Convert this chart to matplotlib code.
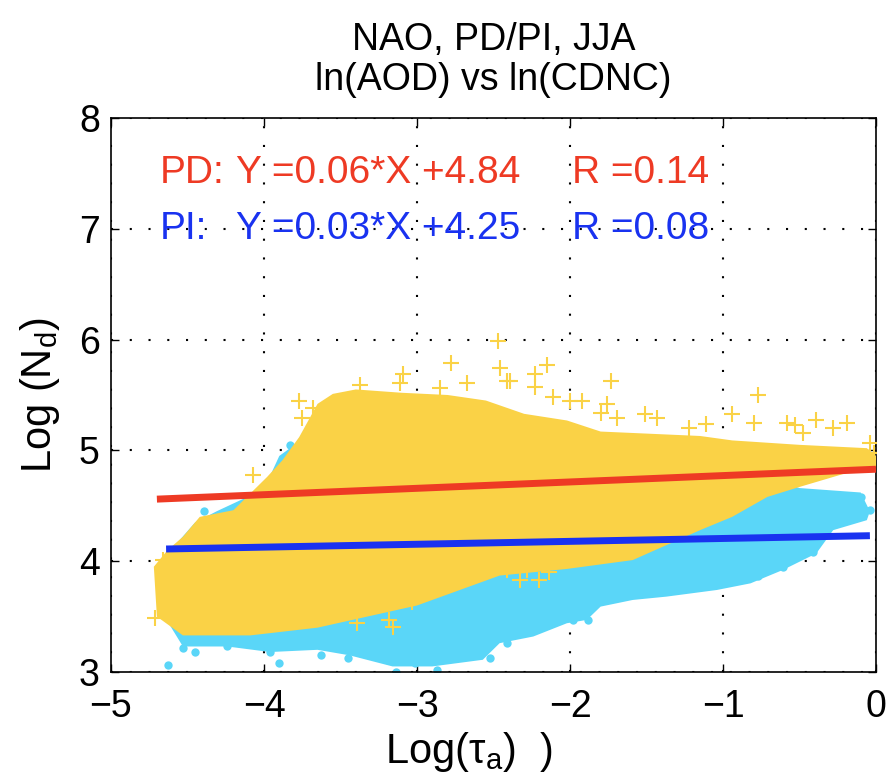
import matplotlib
matplotlib.use("Agg")
import matplotlib.pyplot as plt

plt.rcParams["font.family"] = ["Liberation Sans", "DejaVu Sans"]
plt.rcParams["mathtext.default"] = "regular"

# regression fits (end points)
pd_line_x = [-4.70, 0.0]
pd_line_y = [4.56, 4.83]
pi_line_x = [-4.64, -0.04]
pi_line_y = [4.11, 4.23]

# outline of the dense PD (yellow) cloud
pd_cloud_x = [-4.72, -4.63, -4.53, -4.42, -4.20, -3.98, -3.88, -3.77, -3.65, -3.55,
              -3.40, -3.10, -2.80, -2.55, -2.30, -2.02, -1.80, -1.15, -0.94, -0.50,
              -0.06, 0.0, 0.0, -0.06, -0.28, -0.50, -0.71, -0.94, -1.15, -1.59,
              -2.02, -2.46, -3.00, -3.65, -4.09, -4.53, -4.70]
pd_cloud_y = [3.95, 4.10, 4.22, 4.40, 4.46, 4.76, 4.91, 5.12, 5.42, 5.51,
              5.55, 5.52, 5.50, 5.45, 5.33, 5.27, 5.17, 5.13, 5.09, 5.05,
              5.02, 4.95, 4.85, 4.85, 4.76, 4.67, 4.58, 4.40, 4.28, 4.01,
              3.93, 3.87, 3.60, 3.40, 3.33, 3.33, 3.50]

# outline of the dense PI (cyan) cloud
pi_cloud_x = [-4.64, -4.45, -4.31, -4.00, -3.90, -3.80, -3.63, -3.55, -3.00, -1.50,
              -0.50, -0.10, -0.04, -0.06, -0.28, -0.39, -0.61, -0.82, -1.04, -1.37,
              -1.59, -1.80, -1.89, -2.02, -2.24, -2.46, -2.57, -2.90, -3.16, -3.44,
              -3.65, -3.96, -4.24, -4.53, -4.65]
pi_cloud_y = [4.05, 4.35, 4.45, 4.65, 4.95, 5.05, 5.10, 5.25, 5.30, 5.10,
              4.66, 4.62, 4.45, 4.37, 4.28, 4.07, 3.92, 3.80, 3.74, 3.68,
              3.65, 3.59, 3.47, 3.44, 3.32, 3.26, 3.11, 3.05, 3.05, 3.15,
              3.20, 3.18, 3.23, 3.23, 3.50]

# scattered PD points outside the dense cloud
pd_pts_x = [-2.47, -2.78, -2.46, -2.41, -3.09, -3.11, -2.67, -2.85, -3.37, -3.77,
            -3.68, -3.75, -4.07, -4.66, -4.61, -4.71, -3.18, -3.03, -3.39, -3.16,
            -2.15, -2.23, -2.39, -2.23, -1.73, -2.11, -2.00, -1.92, -1.76, -1.80,
            -1.51, -1.43, -1.69, -0.77, -0.94, -1.11, -0.80, -0.58, -0.53, -0.39,
            -0.19, -0.28, -0.48, -1.22, -0.04, -0.01, -2.41, -2.28, -2.33, -2.20,
            -2.14]
pd_pts_y = [5.99, 5.79, 5.74, 5.63, 5.69, 5.61, 5.61, 5.56, 5.59, 5.45,
            5.38, 5.29, 4.78, 4.01, 3.90, 3.49, 3.47, 3.63, 3.44, 3.41,
            5.77, 5.69, 5.63, 5.57, 5.63, 5.48, 5.45, 5.45, 5.42, 5.34,
            5.33, 5.29, 5.29, 5.50, 5.33, 5.24, 5.25, 5.25, 5.23, 5.27,
            5.25, 5.20, 5.16, 5.20, 5.07, 4.98, 3.92, 3.92, 3.83, 3.83,
            3.90]

# scattered PI points outside the dense cloud
pi_pts_x = [-4.63, -4.53, -4.45, -4.24, -3.96, -3.90, -3.63, -3.45, -3.14, -3.01,
            -2.87, -2.52, -2.94, -2.83, -2.71, -1.98, -1.88, -2.41, -0.41, -0.54,
            -0.61, -0.77, -0.04, -0.10, -4.39, -4.30, -3.83]
pi_pts_y = [3.06, 3.22, 3.18, 3.23, 3.18, 3.08, 3.15, 3.13, 3.00, 3.08,
            3.02, 3.13, 3.15, 3.18, 3.23, 3.47, 3.47, 3.26, 4.08, 4.08,
            3.95, 3.87, 4.46, 4.58, 4.45, 4.40, 5.05]

yellow = "#fad246"
cyan = "#5ad6f8"
red = "#ee3a24"
blue = "#1932f0"

fig = plt.figure(figsize=(8.88, 7.82), dpi=100)
ax = fig.add_axes([0.125, 0.1407, 0.8615, 0.7084])

ax.fill(pi_cloud_x, pi_cloud_y, color=cyan, lw=0, zorder=2)
ax.plot(pi_pts_x, pi_pts_y, "o", color=cyan, ms=6, mew=0, zorder=2)
ax.fill(pd_cloud_x, pd_cloud_y, color=yellow, lw=0, zorder=3)
ax.plot(pd_pts_x, pd_pts_y, "+", color=yellow, ms=11, mew=1.5, zorder=3)

ax.plot(pd_line_x, pd_line_y, color=red, lw=5, solid_capstyle="butt", zorder=4)
ax.plot(pi_line_x, pi_line_y, color=blue, lw=5, solid_capstyle="butt", zorder=4)

ax.text(-4.68, 7.5, "PD:", color=red, fontsize=28, va="center")
ax.text(-4.18, 7.5, "Y =0.06*X +4.84", color=red, fontsize=28, va="center")
ax.text(-1.99, 7.5, "R =0.14", color=red, fontsize=28, va="center")
ax.text(-4.68, 7.0, "PI:", color=blue, fontsize=28, va="center")
ax.text(-4.18, 7.0, "Y =0.03*X +4.25", color=blue, fontsize=28, va="center")
ax.text(-1.99, 7.0, "R =0.08", color=blue, fontsize=28, va="center")

ax.set_xlim(-5, 0)
ax.set_ylim(3, 8)
ax.set_xticks([-5, -4, -3, -2, -1, 0])
ax.set_yticks([3, 4, 5, 6, 7, 8])
ax.grid(True, color="k", linestyle=(0, (1, 8)), lw=1.5)
ax.set_axisbelow(True)
ax.tick_params(direction="in", top=True, right=True, length=6, width=1,
               labelsize=27)
ax.tick_params(axis="x", pad=12)
ax.tick_params(axis="y", pad=8)
for s in ax.spines.values():
    s.set_linewidth(1.2)

ax.set_title("NAO, PD/PI, JJA\nln(AOD) vs ln(CDNC)", fontsize=27, pad=20,
             linespacing=1.15)
ax.set_xlabel(r"Log($\tau_{a}$)  )", fontsize=30)
ax.xaxis.set_label_coords(0.468, -0.105)
ax.set_ylabel(r"Log (N$_{d}$)", fontsize=30, labelpad=12)

fig.savefig("out.png", dpi=100)
